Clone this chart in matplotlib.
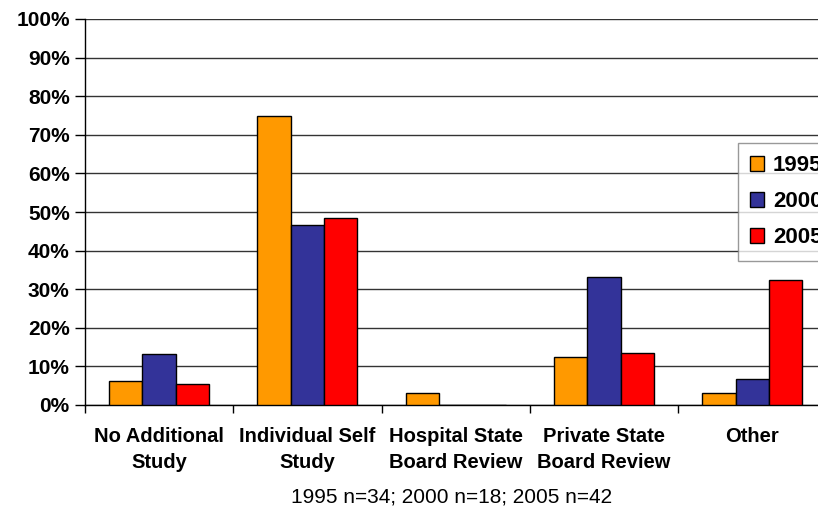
import numpy as np
import matplotlib
matplotlib.use("Agg")
import matplotlib.pyplot as plt
from matplotlib.ticker import FixedLocator

plt.rcParams['font.family'] = ['Liberation Sans', 'DejaVu Sans']

categories = ["No Additional\nStudy", "Individual Self\nStudy", "Hospital State\nBoard Review",
              "Private State\nBoard Review", "Other"]
years = ["1995", "2000", "2005"]
v1995 = [6.3, 75.0, 3.0, 12.4, 3.0]
v2000 = [13.1, 46.7, 0.0, 33.2, 6.7]
v2005 = [5.4, 48.4, 0.0, 13.4, 32.5]
colors = ["#FF9900", "#333399", "#FF0000"]
note = "1995 n=34; 2000 n=18; 2005 n=42"

fig = plt.figure(figsize=(8.18, 5.12), dpi=100)
ax = fig.add_axes([85 / 818, 107 / 512, 741.5 / 818, 386 / 512])

x = np.arange(len(categories))
w = 0.2247
for i, (vals, c, lab) in enumerate(zip([v1995, v2000, v2005], colors, years)):
    ax.bar(x + (i - 1) * w, vals, width=w, color=c, edgecolor="black", linewidth=1.0,
           label=lab, zorder=3)

ax.set_xlim(-0.5, len(categories) - 0.5)
ax.set_ylim(0, 100)
ax.set_yticks(np.arange(0, 101, 10))
ax.set_yticklabels([f"{t}%" for t in range(0, 101, 10)], fontsize=15, fontweight="bold")
ax.yaxis.grid(True, color="#333333", linewidth=1.0, zorder=0)
ax.tick_params(axis="y", length=7, width=1, direction="out", pad=4)

ax.set_xticks(x)
ax.set_xticklabels(categories, fontsize=14.5, fontweight="bold", linespacing=1.45)
ax.tick_params(axis="x", which="major", length=0, pad=16)
ax.xaxis.set_minor_locator(FixedLocator(np.arange(-0.5, len(categories), 1.0)))
ax.tick_params(axis="x", which="minor", length=6, width=1, direction="out")

for s in ["top", "right"]:
    ax.spines[s].set_visible(False)
ax.spines["left"].set_linewidth(1.0)
ax.spines["bottom"].set_linewidth(1.0)

leg = fig.legend(loc="upper left", bbox_to_anchor=(738 / 818, 1 - 143 / 512),
                 prop={"weight": "bold", "size": 16}, frameon=True, fancybox=False,
                 handlelength=0.62, handleheight=0.62, handletextpad=0.4, labelspacing=0.68,
                 borderpad=0.55, borderaxespad=0)
leg.get_frame().set_edgecolor("#808080")
leg.get_frame().set_linewidth(1.0)

fig.text(452 / 818, 1 - 497 / 512, note, ha="center", va="center", fontsize=15)

fig.savefig("out.png", dpi=100)
